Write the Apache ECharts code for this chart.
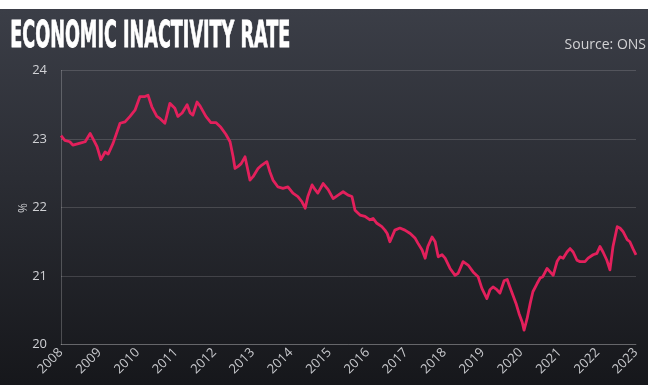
<!DOCTYPE html>
<html>
<head>
<meta charset="utf-8">
<script src="https://cdn.jsdelivr.net/npm/echarts@6/dist/echarts.min.js"></script>
<style>
  html, body { margin: 0; padding: 0; background: #ffffff; }
  #chart { width: 655px; height: 385px; }
</style>
</head>
<body>
<div id="chart"></div>
<script>
// Economic inactivity rate (%), UK, 16-64, rolling three-month average
const dates = [
  2008.00, 2008.10, 2008.23, 2008.31, 2008.50, 2008.63, 2008.76, 2008.83, 2008.94,
  2009.04, 2009.15, 2009.23, 2009.36, 2009.54, 2009.67, 2009.80, 2009.93,
  2010.06, 2010.19, 2010.27, 2010.37, 2010.50, 2010.58, 2010.71, 2010.84, 2010.97,
  2011.05, 2011.16, 2011.29, 2011.37, 2011.44, 2011.55, 2011.63, 2011.78, 2011.91,
  2012.04, 2012.17, 2012.30, 2012.41, 2012.49, 2012.54, 2012.62, 2012.70, 2012.80, 2012.93,
  2013.01, 2013.14, 2013.24, 2013.37, 2013.45, 2013.53, 2013.66, 2013.79, 2013.92,
  2014.05, 2014.18, 2014.29, 2014.37, 2014.44, 2014.55, 2014.63, 2014.70, 2014.84, 2014.97,
  2015.10, 2015.23, 2015.36, 2015.49, 2015.59, 2015.67, 2015.80, 2015.93,
  2016.06, 2016.14, 2016.24, 2016.37, 2016.45, 2016.51, 2016.58, 2016.71, 2016.84, 2016.97,
  2017.11, 2017.24, 2017.31, 2017.42, 2017.50, 2017.57, 2017.68, 2017.76, 2017.84, 2017.94,
  2018.02, 2018.15, 2018.28, 2018.36, 2018.49, 2018.62, 2018.75, 2018.88, 2018.98,
  2019.11, 2019.19, 2019.27, 2019.37, 2019.45, 2019.56, 2019.64, 2019.71, 2019.79, 2019.87, 2019.95,
  2020.03, 2020.08, 2020.16, 2020.24, 2020.31, 2020.42, 2020.50, 2020.57, 2020.68, 2020.76, 2020.84, 2020.94,
  2021.02, 2021.10, 2021.20, 2021.28, 2021.36, 2021.46, 2021.54, 2021.67, 2021.75, 2021.88, 2021.98,
  2022.06, 2022.14, 2022.24, 2022.32, 2022.40, 2022.51, 2022.58, 2022.66, 2022.77, 2022.84, 2022.92,
  2023.00
];
const rates = [
  23.05, 22.98, 22.96, 22.91, 22.94, 22.96, 23.08, 23.01, 22.89,
  22.70, 22.81, 22.78, 22.94, 23.23, 23.25, 23.33, 23.42,
  23.62, 23.62, 23.64, 23.47, 23.33, 23.30, 23.23, 23.52, 23.45,
  23.33, 23.38, 23.50, 23.38, 23.35, 23.54, 23.48, 23.33, 23.24,
  23.24, 23.17, 23.07, 22.96, 22.74, 22.57, 22.60, 22.64, 22.74, 22.40,
  22.45, 22.57, 22.62, 22.67, 22.52, 22.40, 22.30, 22.28, 22.30,
  22.21, 22.16, 22.08, 21.99, 22.16, 22.33, 22.26, 22.21, 22.35, 22.26,
  22.13, 22.18, 22.23, 22.18, 22.16, 21.96, 21.89, 21.87,
  21.82, 21.84, 21.77, 21.72, 21.67, 21.62, 21.50, 21.67, 21.70, 21.67,
  21.62, 21.55, 21.48, 21.38, 21.26, 21.43, 21.57, 21.50, 21.28, 21.31,
  21.26, 21.11, 21.01, 21.04, 21.21, 21.16, 21.06, 20.99, 20.82,
  20.67, 20.80, 20.84, 20.80, 20.75, 20.93, 20.95, 20.84, 20.72, 20.60, 20.45,
  20.33, 20.21, 20.38, 20.60, 20.77, 20.89, 20.97, 20.99, 21.11, 21.06, 21.01, 21.21,
  21.28, 21.26, 21.35, 21.40, 21.35, 21.23, 21.21, 21.21, 21.26, 21.31, 21.33,
  21.43, 21.35, 21.23, 21.09, 21.43, 21.72, 21.70, 21.65, 21.53, 21.50, 21.40,
  21.31
];
const yearTicks = [2008, 2023];   // first and last year label
const rateTicks = [20, 24];       // y-axis range, one-point steps

const titleText = 'ECONOMIC INACTIVITY RATE';
const sourceText = 'Source: ONS';
const unitText = '%';

// Condensed headline: measure the bold narrow face and squeeze it to width
const titleFont = "bold 38px 'Liberation Sans Narrow', 'DejaVu Sans Condensed', sans-serif";
const ctx = document.createElement('canvas').getContext('2d');
ctx.font = titleFont;
const titleScale = 280 / ctx.measureText(titleText).width;

const chart = echarts.init(document.getElementById('chart'), null, { renderer: 'canvas' });

chart.setOption({
  animation: false,
  backgroundColor: 'transparent',
  graphic: [
    {
      type: 'rect', z: -10, silent: true,
      shape: { x: 0, y: 9, width: 648, height: 376 },
      style: {
        fill: new echarts.graphic.LinearGradient(0, 0, 0, 1, [
          { offset: 0, color: '#3b3e47' },
          { offset: 0.45, color: '#2b2d34' },
          { offset: 1, color: '#16171b' }
        ])
      }
    },
    {
      type: 'text', left: 10, top: 18, z: 10,
      scaleX: titleScale, originX: 0,
      style: {
        text: titleText,
        font: titleFont,
        fill: '#ffffff',
        stroke: '#ffffff',
        lineWidth: 0.8
      }
    },
    {
      type: 'text', right: 9, top: 38, z: 10,
      style: {
        text: sourceText,
        font: "14px 'Open Sans', sans-serif",
        fill: '#d2d2d4'
      }
    },
    {
      // unit label beside the value axis, turned on its side
      type: 'text', x: 24, y: 208, rotation: Math.PI / 2, z: 10,
      style: {
        text: unitText,
        font: "12px 'Open Sans', sans-serif",
        fill: '#c8c9cd',
        align: 'center',
        verticalAlign: 'middle'
      }
    }
  ],
  grid: { left: 61, right: 19, top: 70.5, bottom: 40.5, containLabel: false },
  xAxis: {
    type: 'value',
    min: yearTicks[0], max: yearTicks[1], interval: 1,
    axisLine: { show: true, lineStyle: { color: 'rgba(255,255,255,0.22)', width: 1 } },
    axisTick: { show: false },
    splitLine: { show: false },
    axisLabel: {
      rotate: 45, margin: 6,
      color: '#c8c9cd', fontSize: 13, fontFamily: 'Open Sans, sans-serif',
      formatter: v => String(Math.round(v)),
      showMinLabel: true, showMaxLabel: true
    }
  },
  yAxis: {
    type: 'value',
    min: rateTicks[0], max: rateTicks[1], interval: 1,
    axisLine: { show: true, lineStyle: { color: 'rgba(255,255,255,0.22)', width: 1 } },
    axisTick: { show: false },
    splitLine: { show: true, lineStyle: { color: 'rgba(255,255,255,0.15)', width: 1 } },
    axisLabel: {
      margin: 14,
      color: '#d0d1d5', fontSize: 13, fontFamily: 'Open Sans, sans-serif'
    }
  },
  series: [{
    type: 'line',
    data: dates.map((d, i) => [d, rates[i]]),
    showSymbol: false,
    symbol: 'none',
    lineStyle: { color: '#e3205c', width: 2.8, join: 'round' },
    clip: false
  }]
});
</script>
</body>
</html>
